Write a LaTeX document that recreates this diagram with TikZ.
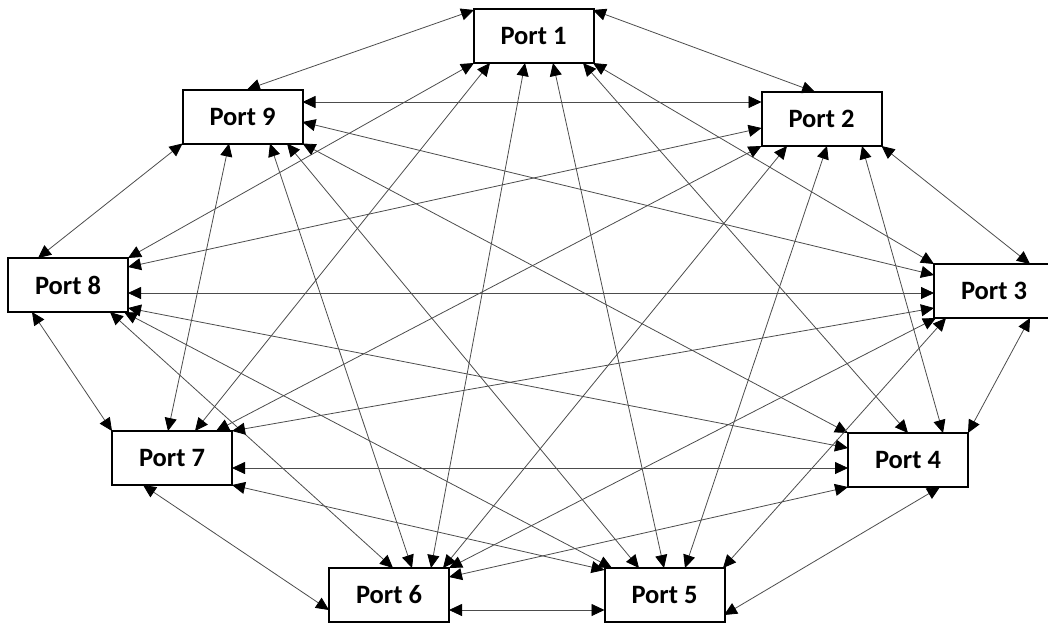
\documentclass[tikz,border=0pt]{standalone}
\usepackage{fontspec}
\setmainfont{Carlito}
\usetikzlibrary{arrows.meta,calc}
\begin{document}
\begin{tikzpicture}[x=1pt,y=-1pt,
  port/.style={draw=black,line width=2pt,fill=white,minimum width=120pt,minimum height=54pt,inner sep=0pt,font=\fontsize{26.5}{30}\selectfont\bfseries},
  link/.style={line width=0.8pt,draw=black!70,{Triangle[length=13pt,width=12pt,black]}-{Triangle[length=13pt,width=12pt,black]}}]
\useasboundingbox (0,0) rectangle (1048,624);
\node[port] (p1) at (533.5,36) {Port 1};
\node[port] (p9) at (242.5,116.5) {Port 9};
\node[port] (p2) at (821.5,119) {Port 2};
\node[port] (p8) at (68,285) {Port 8};
\node[port] (p3) at (994,291) {Port 3};
\node[port] (p7) at (172,458) {Port 7};
\node[port] (p4) at (908,460) {Port 4};
\node[port] (p6) at (389,595) {Port 6};
\node[port] (p5) at (664.5,595) {Port 5};
% Port 1
\draw[link] ($(p1)+(-59.5,-26)$) -- ($(p9)+(4.5,-27)$);
\draw[link] ($(p1)+(59.5,-26)$) -- ($(p2)+(-6.5,-27)$);
\draw[link] ($(p1)+(-59.5,27)$) -- ($(p8)+(60,-27)$);
\draw[link] ($(p1)+(-43.5,27)$) -- ($(p7)+(23,-27)$);
\draw[link] ($(p1)+(-8.5,27)$) -- ($(p6)+(42,-27)$);
\draw[link] ($(p1)+(19.5,27)$) -- ($(p5)+(-0.5,-27)$);
\draw[link] ($(p1)+(49.5,27)$) -- ($(p4)+(0,-27)$);
\draw[link] ($(p1)+(59.5,27)$) -- ($(p3)+(-60,-27)$);
% Port 9
\draw[link] ($(p9)+(60,-14.5)$) -- ($(p2)+(-60,-17)$);
\draw[link] ($(p9)+(60,5.5)$) -- ($(p3)+(-60,-16)$);
\draw[link] ($(p9)+(-60,27)$) -- ($(p8)+(-30,-27)$);
\draw[link] ($(p9)+(-13.5,27)$) -- ($(p7)+(-4,-27)$);
\draw[link] ($(p9)+(27.5,27)$) -- ($(p6)+(23,-27)$);
\draw[link] ($(p9)+(44.5,27)$) -- ($(p5)+(-25.5,-27)$);
\draw[link] ($(p9)+(60,27)$) -- ($(p4)+(-60,-27)$);
% Port 2
\draw[link] ($(p2)+(-60,9)$) -- ($(p8)+(60,-18)$);
\draw[link] ($(p2)+(-60,27)$) -- ($(p7)+(44,-27)$);
\draw[link] ($(p2)+(-34.5,27)$) -- ($(p6)+(54,-27)$);
\draw[link] ($(p2)+(5.5,27)$) -- ($(p5)+(20.5,-27)$);
\draw[link] ($(p2)+(40.5,27)$) -- ($(p4)+(35,-27)$);
\draw[link] ($(p2)+(60,27)$) -- ($(p3)+(36,-27)$);
% Port 8
\draw[link] ($(p8)+(60,8)$) -- ($(p3)+(-60,2)$);
\draw[link] ($(p8)+(60,23)$) -- ($(p4)+(-60,-12)$);
\draw[link] ($(p8)+(-36,27)$) -- ($(p7)+(-60,-27)$);
\draw[link] ($(p8)+(42,27)$) -- ($(p6)+(4,-27)$);
\draw[link] ($(p8)+(56,27)$) -- ($(p5)+(-52.5,-27)$);
% Port 3
\draw[link] ($(p3)+(-60,17)$) -- ($(p7)+(60,-27)$);
\draw[link] ($(p3)+(-58,27)$) -- ($(p6)+(60,-27)$);
\draw[link] ($(p3)+(-48,27)$) -- ($(p5)+(58.5,-27)$);
\draw[link] ($(p3)+(36,27)$) -- ($(p4)+(60,-27)$);
% Port 7
\draw[link] ($(p7)+(60,10)$) -- ($(p4)+(-60,8)$);
\draw[link] ($(p7)+(60,27)$) -- ($(p5)+(-60,-25)$);
\draw[link] ($(p7)+(-29,27)$) -- ($(p6)+(-60,15)$);
% Port 4
\draw[link] ($(p4)+(-60,27)$) -- ($(p6)+(60,-18)$);
\draw[link] ($(p4)+(32,27)$) -- ($(p5)+(59.5,20)$);
% Port 6
\draw[link] ($(p6)+(60,15)$) -- ($(p5)+(-60,15)$);
\end{tikzpicture}
\end{document}
